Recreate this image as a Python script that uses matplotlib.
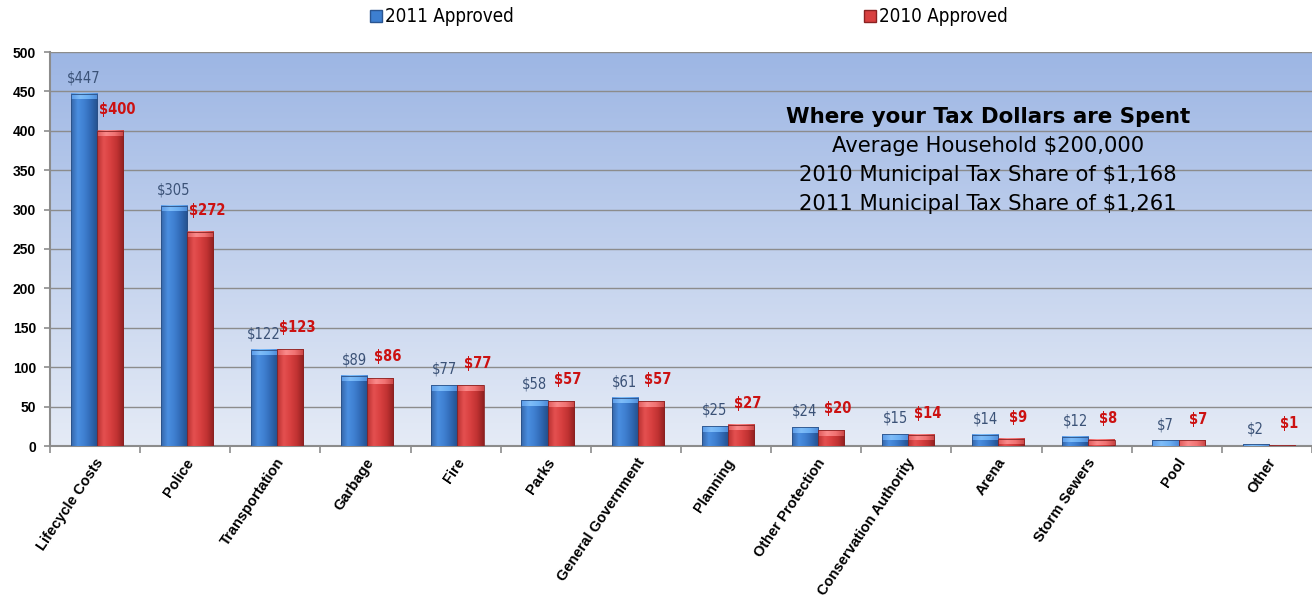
import numpy as np
import matplotlib
matplotlib.use("Agg")
import matplotlib.pyplot as plt
from matplotlib.patches import Rectangle
from matplotlib.colors import to_rgb

categories = ["Lifecycle Costs", "Police", "Transportation", "Garbage", "Fire", "Parks",
              "General Government", "Planning", "Other Protection", "Conservation Authority",
              "Arena", "Storm Sewers", "Pool", "Other"]
approved_2011 = [447, 305, 122, 89, 77, 58, 61, 25, 24, 15, 14, 12, 7, 2]
approved_2010 = [400, 272, 123, 86, 77, 57, 57, 27, 20, 14, 9, 8, 7, 1]
series_names = ["2011 Approved", "2010 Approved"]
yticks = [0, 50, 100, 150, 200, 250, 300, 350, 400, 450, 500]
info_title = "Where your Tax Dollars are Spent"
info_lines = ["Average Household $200,000",
              "2010 Municipal Tax Share of $1,168",
              "2011 Municipal Tax Share of $1,261"]

NARROW = ["DejaVu Sans"]
ARIAL = ["Liberation Sans", "DejaVu Sans"]

fig = plt.figure(figsize=(13.12, 6.01), dpi=100)
ax = fig.add_axes([50/1312, 155/601, 1 - 50/1312, (446-52)/601])

# background gradient
bg_top = np.array(to_rgb("#9db6e4"))
bg_bot = np.array(to_rgb("#e5ebf6"))
t = np.linspace(0, 1, 256)[:, None]
grad = (bg_top * (1 - t) + bg_bot * t)[:, None, :].repeat(2, axis=1)
ax.imshow(grad, extent=[0, 1, 0, 1], transform=ax.transAxes, aspect="auto",
          zorder=0, interpolation="bilinear")

x = np.arange(len(categories))
w = 0.29
bars_b = ax.bar(x - w/2 + 0.02, approved_2011, w, color="none", zorder=3)
bars_r = ax.bar(x + w/2 + 0.02, approved_2010, w, color="none", zorder=3)

def shade(stops, n=64):
    pos = np.linspace(0, 1, len(stops))
    cols = np.array([to_rgb(c) for c in stops])
    s = np.linspace(0, 1, n)
    out = np.stack([np.interp(s, pos, cols[:, k]) for k in range(3)], axis=-1)
    return out[None, :, :]

body_b = shade(["#3566a8", "#4a8ee0", "#3f7fd0", "#3068b4", "#24508c"])
body_r = shade(["#b83030", "#e45050", "#d84040", "#c03232", "#8e2020"])
cap_b = shade(["#5a9ae8", "#7fbdf8", "#6aaef2", "#4f8ad8"])
cap_r = shade(["#e05a5a", "#fa8a8a", "#f07272", "#c84444"])

def paint(bars, body, cap, edge):
    for r in bars:
        bx, bw, bh = r.get_x(), r.get_width(), r.get_height()
        if bh <= 0:
            continue
        ax.imshow(body, extent=[bx, bx + bw, 0, bh], aspect="auto", zorder=3,
                  interpolation="bilinear")
        ch = min(7.0, bh)
        ax.imshow(cap, extent=[bx, bx + bw, bh - ch, bh], aspect="auto", zorder=4,
                  interpolation="bilinear")
        ax.add_patch(Rectangle((bx, 0), bw, bh, facecolor="none", edgecolor=edge,
                               linewidth=0.6, zorder=5))

paint(bars_b, body_b, cap_b, "#2a4f85")
paint(bars_r, body_r, cap_r, "#8a2222")

for r, v in zip(bars_b, approved_2011):
    ax.annotate(f"${v}", (r.get_x() + r.get_width()/2, v), xytext=(0, 6),
                textcoords="offset points", ha="center", va="bottom",
                fontsize=10.5, color="#3b5277", family=NARROW, fontstretch="condensed",
                zorder=6)
for r, v in zip(bars_r, approved_2010):
    ax.annotate(f"${v}", (r.get_x() + r.get_width()/2, v), xytext=(5, 10),
                textcoords="offset points", ha="center", va="bottom",
                fontsize=10.5, color="#cc1111", family=NARROW, fontstretch="condensed",
                fontweight="bold", zorder=6)

ax.set_xlim(-0.5, len(categories) - 0.5)
ax.set_ylim(0, 500)
ax.set_yticks(yticks)
ax.set_yticklabels([str(v) for v in yticks], fontsize=10, fontweight="bold", family=ARIAL)
ax.yaxis.grid(True, color="#8c8c8c", linewidth=1.0, zorder=1)
ax.set_axisbelow(True)
for gl in ax.get_ygridlines():
    gl.set_zorder(1)

ax.set_xticks(x)
ax.set_xticklabels(categories, rotation=56, ha="right", va="top", rotation_mode="anchor",
                   fontsize=10.5, fontweight="bold", family=ARIAL)
ax.tick_params(axis="x", which="major", length=0, pad=7)
ax.set_xticks(np.arange(len(categories) + 1) - 0.5, minor=True)
ax.tick_params(axis="x", which="minor", length=5, color="#8c8c8c", width=1.2)
ax.tick_params(axis="y", length=4, color="#8c8c8c", width=1.2, pad=6)

for s in ["top", "right"]:
    ax.spines[s].set_visible(False)
for s in ["left", "bottom"]:
    ax.spines[s].set_color("#8c8c8c")
    ax.spines[s].set_linewidth(1.5)

# info text
cx = 988
fig.text(cx / 1312, (601 - 117) / 601, info_title, ha="center", va="center",
         fontsize=15.4, fontweight="bold", family=["DejaVu Sans"])
for i, line in enumerate(info_lines):
    fig.text(cx / 1312, (601 - 146 - 29 * i) / 601, line, ha="center", va="center",
             fontsize=15.2, family=["DejaVu Sans"])

# legend
h1 = plt.Line2D([], [], marker="s", linestyle="none", markersize=9,
                markerfacecolor="#3d7fd0", markeredgecolor="#2a5590")
h2 = plt.Line2D([], [], marker="s", linestyle="none", markersize=9,
                markerfacecolor="#d84040", markeredgecolor="#8a2222")
fig.legend([h1, h2], series_names, loc="center", bbox_to_anchor=(689/1312, 1 - 17/601),
           ncol=2, frameon=False, handlelength=0.6, handletextpad=0.2,
           columnspacing=18.7, prop={"family": NARROW, "size": 13.5, "stretch": "condensed"})

fig.savefig("out.png", dpi=100)
